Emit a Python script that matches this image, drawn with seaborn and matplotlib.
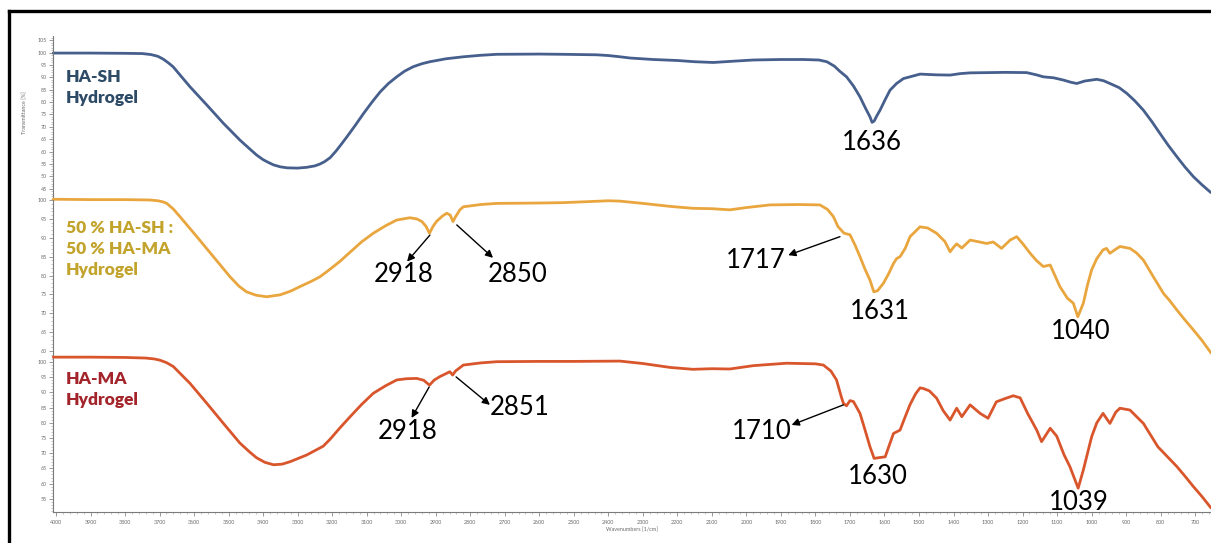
import numpy as np
import pandas as pd
import matplotlib
matplotlib.use("Agg")
import matplotlib.pyplot as plt
from matplotlib.lines import Line2D
from matplotlib.ticker import MultipleLocator
import seaborn as sns

# ---------------- spectra (wavenumber in 1/cm, transmittance in %) ----------------
wn_hash = [4008, 3900, 3800, 3750, 3725, 3705, 3690, 3675, 3661, 3612, 3563, 3515, 3467,
           3440, 3419, 3400, 3385, 3370, 3350, 3330, 3300, 3274, 3250, 3236, 3222, 3206,
           3190, 3177, 3158, 3134, 3110, 3085, 3061, 3037, 3013, 2990, 2965, 2940, 2917,
           2870, 2820, 2770, 2723, 2600, 2531, 2434, 2400, 2366, 2337, 2270, 2200, 2150,
           2096, 2040, 1980, 1900, 1835, 1790, 1767, 1745, 1730, 1710, 1690, 1671, 1655,
           1642, 1636, 1630, 1622, 1613, 1598, 1584, 1565, 1545, 1526, 1497, 1450, 1410,
           1380, 1352, 1300, 1250, 1188, 1160, 1140, 1110, 1082, 1060, 1043, 1020, 985,
           965, 947, 920, 898, 875, 850, 825, 802, 778, 753, 730, 705, 680, 657, 654]
t_hash = [99.8, 99.8, 99.7, 99.6, 99.2, 98.5, 97.4, 95.9, 94.3, 86.2, 78.8, 71.4, 64.6,
          61.2, 58.6, 56.7, 55.6, 54.6, 53.8, 53.4, 53.3, 53.6, 54.2, 54.9, 55.9, 57.5,
          60.0, 62.3, 65.8, 70.4, 75.2, 79.9, 84.1, 87.5, 90.2, 92.5, 94.3, 95.5, 96.3,
          97.5, 98.3, 98.9, 99.3, 99.4, 99.3, 99.1, 98.8, 98.3, 97.8, 97.2, 96.8, 96.3,
          96.0, 96.5, 97.0, 97.2, 97.2, 97.0, 96.3, 94.5, 92.5, 90.2, 86.5, 82.1, 77.5,
          74.0, 71.8, 72.3, 74.5, 76.7, 81.0, 84.8, 87.5, 89.5, 90.2, 91.3, 91.0, 90.9,
          91.5, 91.8, 91.9, 92.0, 91.9, 91.0, 90.2, 89.8, 88.9, 88.0, 87.5, 88.5, 89.2,
          88.6, 87.5, 85.8, 83.5, 80.5, 76.7, 72.0, 67.3, 62.5, 57.9, 53.8, 49.8, 46.5,
          43.7, 43.4]

wn_mix = [4008, 3900, 3800, 3728, 3705, 3690, 3679, 3660, 3641, 3592, 3544, 3496, 3470,
          3448, 3420, 3390, 3351, 3320, 3293, 3260, 3235, 3206, 3177, 3148, 3115, 3081,
          3045, 3013, 2975, 2955, 2940, 2928, 2918, 2908, 2897, 2880, 2868, 2858, 2850,
          2843, 2830, 2820, 2770, 2723, 2600, 2531, 2450, 2400, 2366, 2300, 2220, 2155,
          2100, 2048, 2000, 1932, 1850, 1787, 1765, 1748, 1735, 1717, 1708, 1700, 1685,
          1671, 1657, 1642, 1631, 1620, 1603, 1588, 1574, 1565, 1555, 1540, 1526, 1497,
          1475, 1449, 1425, 1410, 1400, 1391, 1376, 1352, 1330, 1304, 1285, 1261, 1236,
          1217, 1200, 1178, 1160, 1140, 1120, 1092, 1070, 1053, 1040, 1024, 1012, 1000,
          985, 967, 957, 947, 930, 918, 889, 870, 850, 820, 792, 775, 753, 730, 705, 680,
          657, 654]
t_mix = [100.2, 100.1, 100.1, 100.0, 99.8, 99.5, 99.1, 97.6, 95.6, 90.3, 85.0, 79.7, 77.2,
         75.7, 74.8, 74.4, 74.9, 75.9, 77.1, 78.5, 79.7, 81.7, 83.8, 86.2, 88.9, 91.2,
         93.2, 94.7, 95.3, 95.0, 94.3, 93.0, 91.2, 93.0, 94.4, 95.8, 96.5, 96.0, 94.3,
         95.5, 97.4, 98.2, 98.8, 99.1, 99.2, 99.3, 99.6, 99.8, 99.7, 99.1, 98.3, 97.8,
         97.7, 97.4, 98.0, 98.7, 98.8, 98.7, 97.5, 95.6, 93.0, 91.2, 91.0, 90.8, 88.0,
         85.0, 81.8, 78.8, 75.7, 76.0, 78.0, 80.5, 83.2, 84.5, 85.0, 87.2, 90.3, 92.9,
         92.6, 91.2, 89.0, 86.3, 87.5, 88.4, 87.3, 89.4, 89.0, 88.5, 88.9, 87.2, 89.4,
         90.3, 88.5, 85.9, 84.0, 82.4, 82.8, 77.1, 74.0, 72.7, 69.1, 72.7, 77.5, 81.5,
         84.5, 86.8, 87.2, 85.9, 87.0, 87.7, 87.2, 86.0, 84.1, 79.5, 75.3, 73.5, 70.9,
         68.3, 65.6, 62.8, 59.9, 59.5]

wn_hama = [4008, 3900, 3800, 3740, 3715, 3699, 3680, 3660, 3612, 3563, 3515, 3467, 3440,
           3419, 3395, 3370, 3345, 3322, 3274, 3226, 3206, 3177, 3148, 3115, 3081, 3045,
           3013, 2985, 2955, 2935, 2918, 2905, 2888, 2859, 2851, 2843, 2820, 2770, 2723,
           2600, 2500, 2366, 2300, 2220, 2155, 2100, 2048, 1980, 1884, 1800, 1777, 1755,
           1739, 1725, 1719, 1710, 1700, 1690, 1671, 1656, 1642, 1630, 1612, 1598, 1585,
           1574, 1555, 1540, 1526, 1510, 1497, 1488, 1470, 1449, 1430, 1410, 1391, 1376,
           1352, 1323, 1300, 1276, 1250, 1227, 1207, 1185, 1159, 1145, 1120, 1101, 1080,
           1063, 1039, 1024, 1000, 985, 967, 947, 930, 918, 889, 850, 808, 780, 753, 730,
           705, 680, 657, 654]
t_hama = [101.6, 101.6, 101.5, 101.3, 101.0, 100.6, 99.8, 98.5, 93.0, 86.4, 79.8, 73.3,
          70.5, 68.5, 67.0, 66.2, 66.4, 67.2, 69.4, 72.3, 74.6, 78.4, 82.0, 86.0, 89.7,
          92.2, 94.1, 94.5, 94.6, 94.0, 92.4, 94.0, 95.2, 96.8, 95.7, 97.0, 99.0, 99.7,
          100.1, 100.2, 100.2, 100.3, 99.5, 98.2, 97.6, 97.8, 97.7, 98.8, 99.6, 99.4, 99.0,
          97.0, 94.1, 88.5, 86.4, 85.6, 87.3, 87.0, 83.1, 77.5, 72.1, 68.3, 68.6, 68.8,
          73.0, 76.5, 77.6, 82.0, 86.0, 89.5, 91.5, 91.3, 90.5, 88.1, 84.0, 80.9, 84.8,
          82.0, 85.9, 83.1, 81.5, 86.9, 88.0, 88.9, 88.2, 83.0, 77.6, 73.8, 78.2, 75.6,
          69.5, 65.6, 58.5, 64.5, 75.4, 80.0, 83.1, 79.8, 83.5, 84.8, 84.2, 79.8, 72.1,
          68.8, 65.6, 62.5, 59.0, 55.7, 52.4, 52.0]

sample_names = ["HA-SH\nHydrogel", "50 % HA-SH :\n50 % HA-MA\nHydrogel", "HA-MA\nHydrogel"]

# band assignments shown on each trace
peaks_hash = [1636]
peaks_mix = [2918, 2850, 1717, 1631, 1040]
peaks_hama = [2918, 2851, 1710, 1630, 1039]

# ---------------- styling / layout ----------------
line_colors = ["#465f8c", "#eaa63e", "#d9562c"]
name_colors = ["#2d4b66", "#c2a32b", "#a3252b"]

W, H = 1211, 543
# panel extents in pixels (top, bottom) and y-limits
panel_px = [(36.5, 200.0), (200.0, 360.0), (360.0, 512.0)]
panel_ylim = [(40.4, 106.5), (57.67, 100.0), (50.66, 100.66)]
panel_yticks = [np.arange(45, 106, 5), np.arange(60, 101, 5), np.arange(55, 101, 5)]
x_left_px = 53.3
xlim = (4007.8, 654.2)

# label placement (text center in data coords) and optional arrow (from, to)
label_layout = [
    [dict(xy=(1636, 63.8), arrow=None)],
    [dict(xy=(2992, 80.2), arrow=((2917, 90.7), (2983, 83.7))),
     dict(xy=(2662, 80.2), arrow=((2839, 93.4), (2734, 84.7))),
     dict(xy=(1972, 83.9), arrow=((1729, 90.3), (1879, 85.4))),
     dict(xy=(1614, 70.4), arrow=None),
     dict(xy=(1031, 65.3), arrow=None)],
    [dict(xy=(2980, 77.0), arrow=((2919, 91.8), (2970, 81.6))),
     dict(xy=(2656, 84.9), arrow=((2841, 95.1), (2743, 85.9))),
     dict(xy=(1955, 77.3), arrow=((1719, 85.9), (1869, 79.3))),
     dict(xy=(1619, 62.2), arrow=None),
     dict(xy=(1036, 53.9), arrow=None)],
]
name_pos_px = [(66, 69), (66, 220), (66, 371)]

sns.set_theme(style="white")
plt.rcParams["font.family"] = ["Lato", "DejaVu Sans"]

fig = plt.figure(figsize=(W / 100, H / 100), dpi=100)
fig.patch.set_facecolor("white")

series = [(wn_hash, t_hash, peaks_hash), (wn_mix, t_mix, peaks_mix), (wn_hama, t_hama, peaks_hama)]
for i, ((wn, tr, peaks), (ptop, pbot)) in enumerate(zip(series, panel_px)):
    ax = fig.add_axes([x_left_px / W, 1 - pbot / H, 1 - x_left_px / W, (pbot - ptop) / H])
    ax.set_facecolor("none")
    df = pd.DataFrame({"wavenumber": wn, "transmittance": tr})
    sns.lineplot(data=df, x="wavenumber", y="transmittance", ax=ax, color=line_colors[i],
                 lw=2.0, estimator=None, sort=False)
    for ln in ax.lines:
        ln.set_clip_on(False)
        ln.set_solid_joinstyle("round")
    ax.set_xlim(*xlim)
    ax.set_ylim(*panel_ylim[i])
    ax.set_yticks(panel_yticks[i])
    ax.set_yticklabels([str(v) for v in panel_yticks[i]])
    ax.yaxis.set_minor_locator(MultipleLocator(1))
    ax.set_xlabel("")
    ax.set_ylabel("")
    for s in ["top", "right"]:
        ax.spines[s].set_visible(False)
    ax.spines["left"].set_color("#7a7a7a")
    ax.spines["left"].set_linewidth(0.8)
    ax.tick_params(axis="y", which="major", left=True, length=3, width=0.6, color="#8a8a8a",
                   labelsize=3.8, labelcolor="#6a6a6a", pad=1.5)
    ax.tick_params(axis="y", which="minor", left=True, length=1.5, width=0.4, color="#9a9a9a")
    if i < 2:
        ax.spines["bottom"].set_visible(False)
        ax.tick_params(axis="x", which="both", bottom=False, labelbottom=False)
    else:
        ax.spines["bottom"].set_color("#7a7a7a")
        ax.spines["bottom"].set_linewidth(0.8)
        ax.set_xticks(np.arange(4000, 650, -100))
        ax.xaxis.set_minor_locator(MultipleLocator(20))
        ax.tick_params(axis="x", which="major", bottom=True, length=3, width=0.6, color="#8a8a8a",
                       labelsize=3.9, labelcolor="#6a6a6a", pad=3)
        ax.tick_params(axis="x", which="minor", bottom=True, length=1.5, width=0.4, color="#9a9a9a")
        ax.set_xlabel("Wavenumbers [1/cm]", fontsize=3.9, color="#6a6a6a", labelpad=1.5)

    # peak labels
    for pk, lay in zip(peaks, label_layout[i]):
        ax.text(lay["xy"][0], lay["xy"][1], str(pk), ha="center", va="center",
                fontsize=18.5, color="black", clip_on=False, zorder=5)
        if lay["arrow"] is not None:
            (x0, y0), (x1, y1) = lay["arrow"]
            ax.annotate("", xy=(x1, y1), xytext=(x0, y0), annotation_clip=False,
                        arrowprops=dict(arrowstyle="-|>", color="black", lw=1.0,
                                        mutation_scale=11, shrinkA=0, shrinkB=0))
    # sample name
    nx, ny = name_pos_px[i]
    fig.text(nx / W, 1 - ny / H, sample_names[i], ha="left", va="top", fontsize=12.5,
             fontweight="heavy", color=name_colors[i], linespacing=1.4)

fig.text(25 / W, 1 - 113 / H, "Transmittance [%]", rotation=90, ha="center", va="center",
         fontsize=3.9, color="#6a6a6a")

# outer frame
fig.add_artist(Line2D([8.5 / W, 8.5 / W], [0, 1 - 11 / H], color="black", lw=2.4,
                      transform=fig.transFigure, solid_capstyle="projecting"))
fig.add_artist(Line2D([8.5 / W, 1.0], [1 - 11 / H, 1 - 11 / H], color="black", lw=2.4,
                      transform=fig.transFigure, solid_capstyle="projecting"))

fig.savefig("out.png", dpi=100, facecolor="white")
